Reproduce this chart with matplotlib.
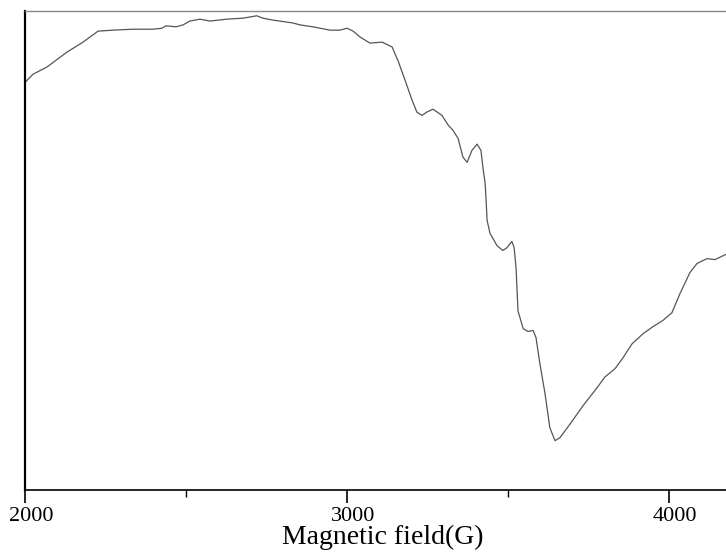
import matplotlib.pyplot as plt
from matplotlib.ticker import MultipleLocator
from matplotlib.transforms import ScaledTranslation

# ===================== 数据 =====================
field = [2000, 2025, 2068, 2130, 2180, 2227, 2273, 2335, 2366, 2398,
         2425, 2438, 2469, 2491, 2512, 2543, 2575, 2627, 2677, 2720,
         2739, 2770, 2832, 2854, 2894, 2947, 2978, 3000, 3019, 3040,
         3071, 3109, 3140, 3158, 3180, 3202, 3217, 3233, 3248, 3267,
         3295, 3314, 3329, 3345, 3360, 3373, 3388, 3404, 3416, 3422,
         3429, 3432, 3435, 3444, 3466, 3484, 3497, 3512, 3519, 3525,
         3531, 3547, 3562, 3578, 3587, 3599, 3615, 3630, 3646, 3661,
         3693, 3733, 3776, 3801, 3832, 3857, 3885, 3919, 3950, 3981,
         4009, 4034, 4065, 4087, 4118, 4143, 4177]
signal = [85.1, 86.8, 88.3, 91.4, 93.5, 95.8, 96.0, 96.2, 96.2, 96.2,
          96.4, 96.9, 96.7, 97.1, 97.9, 98.3, 97.9, 98.3, 98.5, 99.0,
          98.5, 98.1, 97.5, 97.1, 96.7, 96.0, 96.0, 96.4, 95.8, 94.6,
          93.3, 93.5, 92.5, 89.7, 85.6, 81.4, 78.9, 78.2, 78.9, 79.5,
          78.2, 76.2, 75.1, 73.4, 69.5, 68.4, 70.9, 72.2, 70.9, 67.4,
          64.0, 60.5, 56.3, 53.6, 51.0, 50.0, 50.6, 51.9, 50.6, 46.4,
          37.4, 33.7, 33.1, 33.3, 31.8, 26.4, 20.1, 13.0, 10.3, 10.9,
          13.8, 17.6, 21.3, 23.6, 25.3, 27.6, 30.5, 32.6, 34.1, 35.4,
          37.0, 41.0, 45.4, 47.3, 48.3, 48.1, 49.2]
major_ticks = [2000, 3000, 4000]
x_label = "Magnetic field(G)"

# ===================== 绘图 =====================
plt.rcParams['font.family'] = ['Liberation Serif', 'DejaVu Serif']

fig = plt.figure(figsize=(7.26, 5.53), dpi=100)
ax = fig.add_axes([25 / 726, (553 - 490) / 553, 1 - 25 / 726, (490 - 11) / 553])

ax.plot(field, signal, color='#555555', linewidth=0.9)

ax.set_xlim(2000, 4177)
ax.set_ylim(0, 100)

ax.set_xticks(major_ticks)
ax.set_xticklabels([str(t) for t in major_ticks], fontsize=16)
ax.xaxis.set_minor_locator(MultipleLocator(500))
ax.tick_params(axis='x', which='major', direction='out', length=9, width=1.2, pad=3)
ax.tick_params(axis='x', which='minor', direction='out', length=5, width=1.0)
ax.set_yticks([])

offset = ScaledTranslation(6 / 100, 0, fig.dpi_scale_trans)
for lab in ax.get_xticklabels():
    lab.set_transform(lab.get_transform() + offset)

ax.spines['right'].set_visible(False)
ax.spines['top'].set_color('#888888')
ax.spines['top'].set_linewidth(1.0)
ax.spines['left'].set_linewidth(1.6)
ax.spines['bottom'].set_linewidth(1.2)

ax.set_xlabel(x_label, fontsize=20)
ax.xaxis.set_label_coords(0.51, -0.072)

fig.savefig('out.png', dpi=100)
